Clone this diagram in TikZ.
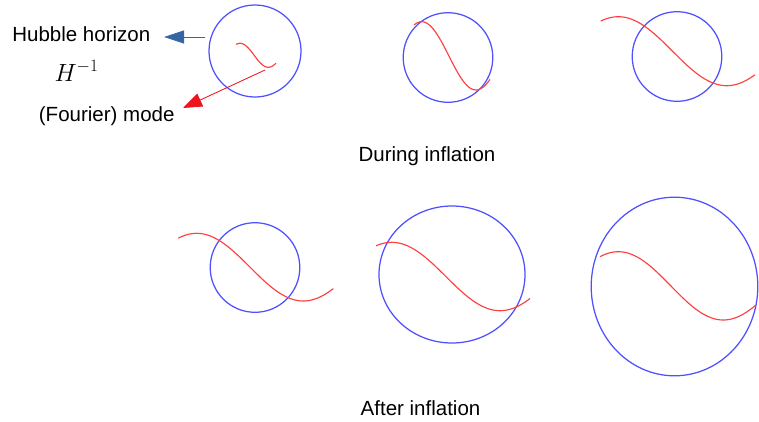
\documentclass[tikz,border=0pt]{standalone}
\usepackage{fontspec}
\setmainfont{Liberation Sans}
\usetikzlibrary{arrows.meta}
\definecolor{hblue}{RGB}{80,80,255}
\definecolor{mred}{RGB}{255,64,64}
\definecolor{arrblue}{RGB}{52,101,164}
\definecolor{arrred}{RGB}{238,20,30}
\tikzset{
  horizon/.style={draw=hblue, line width=1.25pt},
  fmode/.style={draw=mred, line width=1.15pt},
  lbl/.style={font=\fontsize{20.5}{24}\selectfont, anchor=base, inner sep=0pt},
}
% startx peakx peaky troughx troughy endx
\newcommand\mywave[6]{%
  \pgfmathsetmacro\wa{(#1-#2)/(#4-#2)*180}%
  \pgfmathsetmacro\wb{(#6-#2)/(#4-#2)*180}%
  \draw[fmode] plot[domain=\wa:\wb, samples=80, smooth]
    ({#2+\x/180*(#4-#2)}, {(#3+#5)/2-(#5-#3)/2*cos(\x)});%
}
\begin{document}
\begin{tikzpicture}[x=1pt, y=-1pt]
\useasboundingbox (0,0) rectangle (759,421);
\clip (0,0) rectangle (759,421);

% top row: during inflation
\draw[horizon] (255,51) circle (46);
\mywave{236}{240}{43.3}{268.3}{67.3}{276}
\draw[horizon] (448,57.5) circle (44.8);
\mywave{414}{421.7}{21.7}{476}{90}{490}
\draw[horizon] (677,56.5) circle (44.8);
\mywave{600.7}{618.3}{16.7}{726.7}{85.7}{755}

% labels
\node[lbl] (hh) at (81.3,41.7) {Hubble horizon};
\node[anchor=base, inner sep=0pt, font=\fontsize{25}{30}\selectfont] (hinv) at (76.5,81) {$H^{-1}$};
\node[lbl] (fm) at (106.7,121) {(Fourier) mode};
\node[lbl] (during) at (427,161.5) {During inflation};
\node[lbl] (after) at (420.5,415.7) {After inflation};

% arrows
\coordinate (hs) at (205,37);
\coordinate (ht) at (164,37);
\draw[draw=arrblue, line width=0.8pt, -{Triangle[length=20pt, width=13pt]}] (hs) -- (ht);
\coordinate (ms) at (265,70);
\coordinate (mt) at (183,108);
\draw[draw=arrred, fill=arrred, line width=0.8pt, -{Triangle[length=19pt, width=14pt]}] (ms) -- (mt);

% bottom row: after inflation
\draw[horizon] (255,267.5) circle (44.8);
\mywave{178.3}{196.7}{233.3}{303.3}{301}{333.3}
\draw[horizon] (452,274.5) ellipse (73 and 68.5);
\mywave{376}{391.7}{242.3}{500}{310.7}{530}
\draw[horizon] (674.5,286.5) ellipse (83.3 and 89.3);
\mywave{600}{618.3}{251.7}{723.3}{320}{755}
\end{tikzpicture}
\end{document}
